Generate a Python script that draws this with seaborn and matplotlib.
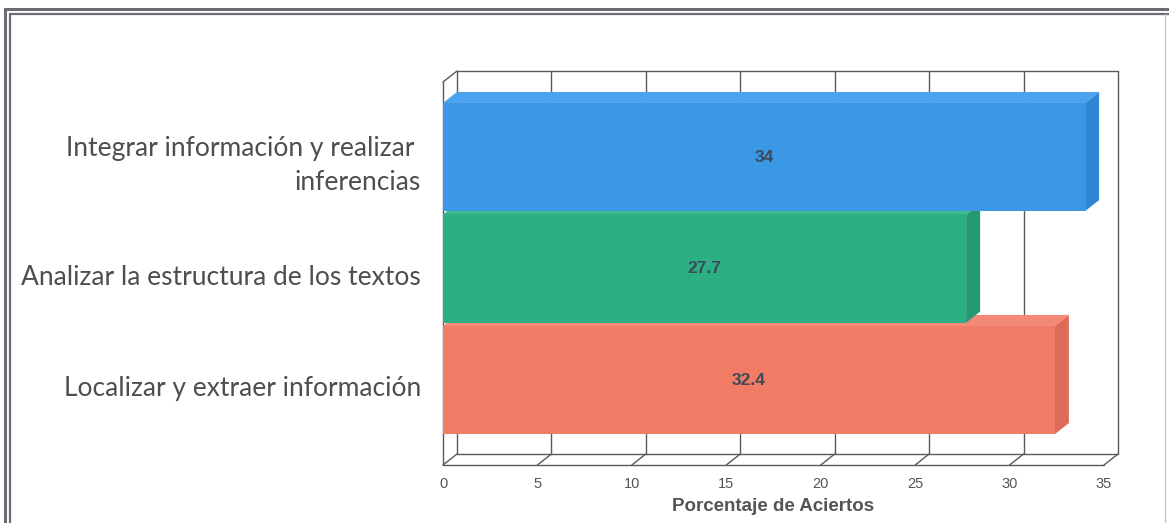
import numpy as np
import matplotlib
matplotlib.use("Agg")
import matplotlib.pyplot as plt
import matplotlib.transforms as mtransforms
from matplotlib.patches import Polygon
from matplotlib.lines import Line2D
import seaborn as sns

# Data
categories = ["Integrar información y realizar \ninferencias",
              "Analizar la estructura de los textos",
              "Localizar y extraer información"]
values = [34, 27.7, 32.4]
value_labels = ["34", "27.7", "32.4"]
x_ticks = [0, 5, 10, 15, 20, 25, 30, 35]
x_title = "Porcentaje de Aciertos"

front_colors = ["#3a98e6", "#2cb083", "#f07c66"]
side_colors = ["#2f86d4", "#249a72", "#de6b56"]
top_colors = ["#4aa3ec", "#3cbb90", "#f48a75"]

sns.set_theme(style="white")
plt.rcParams["font.family"] = ["Liberation Sans Narrow", "Liberation Sans", "DejaVu Sans"]

W, H, DPI = 1169, 523, 100
fig = plt.figure(figsize=(W / DPI, H / DPI), dpi=DPI)
fig.patch.set_facecolor("white")

# front plane of the 3-D box, in figure pixels
x_left, x_right = 443, 1104
y_top, y_bot = 82, 465
ax = fig.add_axes([x_left / W, 1 - y_bot / H, (x_right - x_left) / W, (y_bot - y_top) / H])
ax.set_facecolor("none")

sns.barplot(x=values, y=categories, hue=categories, palette=front_colors,
            orient="h", width=0.97, ax=ax, legend=False, zorder=3,
            linewidth=0, saturation=1)
ax.set_xlim(0, 35)
ax.set_ylim(2.762, -0.673)
for s in ax.spines.values():
    s.set_visible(False)
ax.set_xticks(x_ticks)
ax.set_xticklabels([str(t) for t in x_ticks], fontsize=10.5, color="#555555")
ax.tick_params(axis="x", length=0, pad=9)
ax.tick_params(axis="y", length=0, pad=16)
ax.set_ylabel("")
ax.set_xlabel(x_title, fontsize=13.5, fontweight="bold", color="#555555",
              family=["Liberation Sans Narrow", "Liberation Sans"], labelpad=5)

for lab in ax.get_yticklabels():
    lab.set_fontfamily(["Lato", "DejaVu Sans"])
    lab.set_fontsize(19)
    lab.set_color("#4e4e4e")
    lab.set_multialignment("right")
    lab.set_linespacing(1.45)
    shift = -1 if "\n" in lab.get_text() else -6
    lab.set_transform(lab.get_transform() +
                      mtransforms.ScaledTranslation(0, shift / DPI, fig.dpi_scale_trans))

# depth offset of the box (display pixels)
DX, DY = 14, 11
to_disp = ax.transData.transform
to_data = ax.transData.inverted().transform


def back(pts):
    d = to_disp(np.asarray(pts, dtype=float))
    d[:, 0] += DX
    d[:, 1] += DY
    return to_data(d)


y0, y1 = ax.get_ylim()  # bottom, top (inverted axis)
grid_kw = dict(color="#5a5a5a", lw=1.0, zorder=1, clip_on=False)

# back wall gridlines and outline
for t in x_ticks:
    p = back([[t, y0], [t, y1]])
    ax.add_line(Line2D(p[:, 0], p[:, 1], **grid_kw))
p = back([[0, y1], [35, y1]])
ax.add_line(Line2D(p[:, 0], p[:, 1], **grid_kw))
p = back([[0, y0], [35, y0]])
ax.add_line(Line2D(p[:, 0], p[:, 1], **grid_kw))

# floor: front edge and depth lines at each tick
ax.add_line(Line2D([0, 35], [y0, y0], **grid_kw))
for t in x_ticks:
    b = back([[t, y0]])[0]
    ax.add_line(Line2D([t, b[0]], [y0, b[1]], **grid_kw))

# left wall
ax.add_line(Line2D([0, 0], [y0, y1], **grid_kw))
b = back([[0, y1]])[0]
ax.add_line(Line2D([0, b[0]], [y1, b[1]], **grid_kw))

# 3-D faces of each bar, bottom bar first so upper bars overlap
bars_by_pos = sorted(ax.patches, key=lambda r: r.get_y())
z = 3
for rect in reversed(bars_by_pos):
    i = bars_by_pos.index(rect)
    x0 = rect.get_x()
    x1 = x0 + rect.get_width()
    yt = rect.get_y()
    yb = yt + rect.get_height()
    # top face
    front = np.array([[x0, yt], [x1, yt]])
    bk = back(front)
    ax.add_patch(Polygon([front[0], front[1], bk[1], bk[0]], closed=True,
                         facecolor=top_colors[i], edgecolor="none", zorder=z))
    # side face
    front = np.array([[x1, yt], [x1, yb]])
    bk = back(front)
    ax.add_patch(Polygon([front[0], front[1], bk[1], bk[0]], closed=True,
                         facecolor=side_colors[i], edgecolor="none", zorder=z))
    rect.set_zorder(z + 0.5)
    z += 1

# value labels
for i, rect in enumerate(bars_by_pos):
    cx = rect.get_x() + rect.get_width() / 2
    cy = rect.get_y() + rect.get_height() / 2
    ax.text(cx, cy, value_labels[i], ha="center", va="center", fontsize=12.5,
            fontweight="bold", color="#3e4a58", zorder=20)


# double frame around the figure
def fl(xs, ys, lw, color="#6b6b73"):
    fig.add_artist(Line2D(xs, [H - y for y in ys], transform=None, color=color, lw=lw, zorder=50))


fl([4.5, 4.5], [9, H + 5], 2.2)
fl([10, 10], [14, H + 5], 1.6)
fl([4.5, W + 5], [9, 9], 2.2)
fl([10, W + 5], [14, 14], 1.6)
fl([W - 4, W - 4], [14, H + 5], 1.0, color="#c8c8cc")

fig.savefig("out.png", dpi=DPI, facecolor="white")
